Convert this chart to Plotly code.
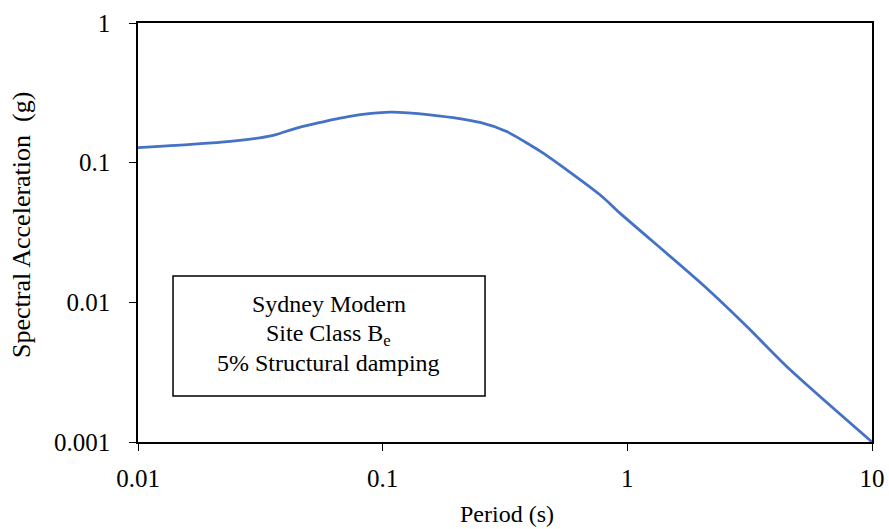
import plotly.graph_objects as go

# Response spectrum (period in s, spectral acceleration in g)
period_s = [0.01, 0.0238, 0.0357, 0.0445, 0.052, 0.0723, 0.107, 0.156,
            0.25, 0.321, 0.40, 0.453, 0.773, 0.933, 2.04, 3.08, 4.48, 10.0]
spectral_acc_g = [0.128, 0.142, 0.157, 0.177, 0.189, 0.214, 0.230, 0.220,
                  0.194, 0.167, 0.134, 0.117, 0.0589, 0.0435, 0.0133, 0.00671, 0.00347, 0.001]

x_tick_vals = [0.01, 0.1, 1, 10]
x_tick_text = ["0.01", "0.1", "1", "10"]
y_tick_vals = [0.001, 0.01, 0.1, 1]
y_tick_text = ["0.001", "0.01", "0.1", "1"]

x_title = "Period (s)"
y_title = "Spectral Acceleration  (g)"
box_lines = ["Sydney Modern", "Site Class B<sub>e</sub>", "5% Structural damping"]

FONT = "Liberation Serif"

fig = go.Figure()
fig.add_trace(go.Scatter(
    x=period_s, y=spectral_acc_g, mode="lines",
    line=dict(color="#4472C4", width=2.8, shape="spline", smoothing=0.8),
    showlegend=False, hoverinfo="skip",
))

axis_common = dict(
    type="log", showgrid=False, zeroline=False, automargin=False,
    showline=True, linecolor="black", linewidth=1.5, mirror=True,
    ticks="outside", ticklen=7, tickwidth=1.3, tickcolor="black",
    tickfont=dict(family=FONT, size=25, color="black"),
)

fig.update_xaxes(**axis_common, range=[-2, 1],
                 tickvals=x_tick_vals, ticktext=x_tick_text, ticklabelstandoff=6)
fig.update_yaxes(**axis_common, range=[-3, 0],
                 tickvals=y_tick_vals, ticktext=y_tick_text, ticklabelstandoff=14)

# Axis titles
fig.add_annotation(xref="paper", yref="paper", x=0.503, y=-0.171, text=x_title,
                   showarrow=False, xanchor="center", yanchor="middle",
                   font=dict(family=FONT, size=24, color="black"))
fig.add_annotation(xref="paper", yref="paper", x=-0.158, y=0.518, text=y_title,
                   showarrow=False, xanchor="center", yanchor="middle", textangle=-90,
                   font=dict(family=FONT, size=26, color="black"))

# Information box
fig.add_shape(type="rect", xref="paper", yref="paper",
              x0=0.0477, x1=0.4728, y0=0.1098, y1=0.396,
              line=dict(color="black", width=1.5), fillcolor="white", layer="above")
for text, ypos in zip(box_lines, [0.329, 0.2554, 0.189]):
    fig.add_annotation(xref="paper", yref="paper", x=0.2602, y=ypos,
                       text=text, showarrow=False, xanchor="center", yanchor="middle",
                       font=dict(family=FONT, size=24, color="black"))

fig.update_layout(
    width=889, height=529,
    margin=dict(l=138, r=17, t=23, b=87),
    paper_bgcolor="white", plot_bgcolor="white",
    font=dict(family=FONT, color="black"),
)

fig.write_html("out.html")
